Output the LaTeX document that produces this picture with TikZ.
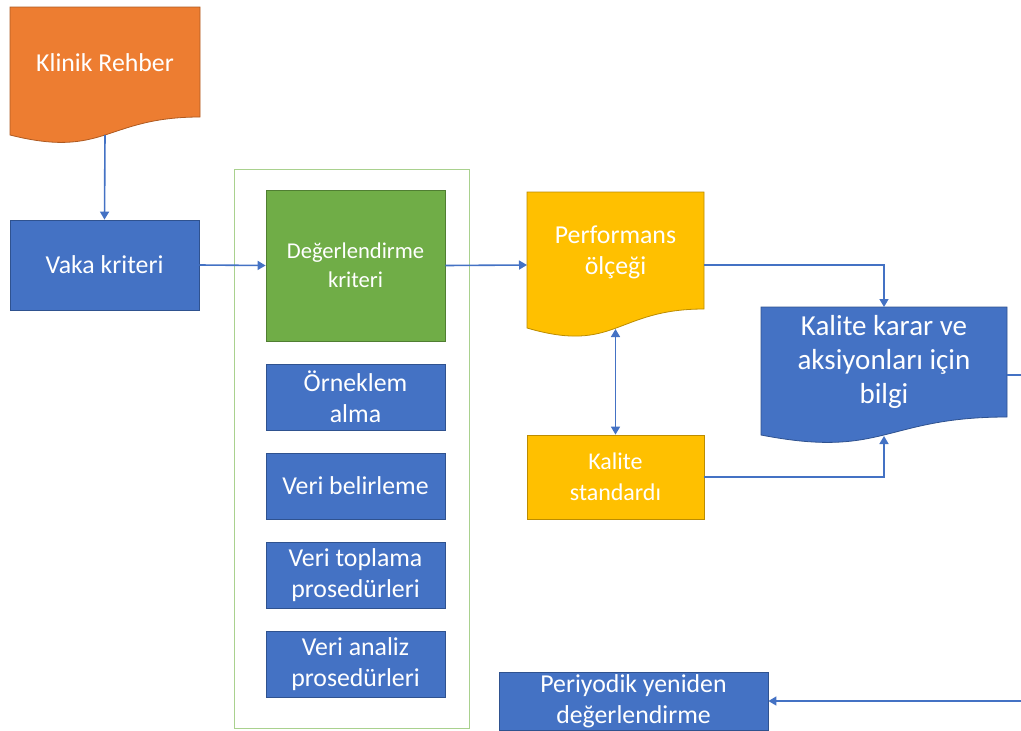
\documentclass[tikz,border=0pt]{standalone}
\usepackage{fontspec}
\setmainfont{Carlito}
\usetikzlibrary{arrows.meta}

\definecolor{blueFill}{HTML}{4472C4}
\definecolor{blueLine}{HTML}{2F528F}
\definecolor{orangeFill}{HTML}{ED7D31}
\definecolor{orangeLine}{HTML}{AE5A21}
\definecolor{goldFill}{HTML}{FFC000}
\definecolor{goldLine}{HTML}{BC8C00}
\definecolor{greenFill}{HTML}{70AD47}
\definecolor{greenLine}{HTML}{507E32}
\definecolor{frameGreen}{HTML}{A9D18E}

\tikzset{
  box/.style={draw=blueLine, fill=blueFill, text=white, line width=0.8pt,
    align=center, inner sep=0pt, font=\fontsize{25.8}{31}\selectfont},
  txt/.style={text=white, align=center, inner sep=0pt,
    font=\fontsize{25.8}{31}\selectfont},
  link/.style={draw=blueFill, line width=1.6pt,
    -{Triangle[width=9pt,length=8pt]}},
}

\begin{document}
\begin{tikzpicture}[x=1pt,y=-1pt]

    % --- Page frame ---
    \useasboundingbox (0,0) rectangle (1021,731);
    \clip (0,0) rectangle (1021,731);

    % --- Green frame round the criteria column ---
    \draw[frameGreen, line width=1pt] (234,169) rectangle (469,728);

    % --- Klinik Rehber (document shape) ---
    \draw[fill=orangeFill, draw=orangeLine, line width=0.8pt]
        (10,7) -- (200,7) -- (200,117)
        .. controls (105,117) and (105,159) .. (10,135) -- cycle;
    \node[txt] (klinik) at (105,63) {Klinik Rehber};
    \coordinate (klinik-b) at (105,135);

    % --- Vaka kriteri ---
    \node[box, minimum width=189pt, minimum height=90pt] (vaka)
        at (104.5,265) {Vaka kriteri};

    % --- Criteria column ---
    \node[box, draw=greenLine, fill=greenFill, minimum width=179pt,
        minimum height=151pt, font=\fontsize{22.6}{29}\selectfont] (degerlendirme)
        at (355.5,265.5) {Değerlendirme\\kriteri};

    \node[box, minimum width=179pt, minimum height=66pt] (orneklem)
        at (355.5,397) {Örneklem\\alma};

    \node[box, minimum width=179pt, minimum height=66pt] (belirleme)
        at (355.5,486) {Veri belirleme};

    \node[box, minimum width=179pt, minimum height=66pt] (toplama)
        at (355.5,575) {Veri toplama\\prosedürleri};

    \node[box, minimum width=179pt, minimum height=66pt] (analiz)
        at (355.5,664) {Veri analiz\\prosedürleri};

    % --- Performans ölçeği (document shape) ---
    \draw[fill=goldFill, draw=goldLine, line width=0.8pt]
        (527,192) -- (704,192) -- (704,309)
        .. controls (615.5,309) and (615.5,354) .. (527,328) -- cycle;
    \node[txt] (performans) at (615.5,252) {Performans\\ölçeği};
    \coordinate (perf-l) at (527,265);
    \coordinate (perf-r) at (704,265);
    \coordinate (perf-b) at (615.5,329);

    % --- Kalite standardı ---
    \node[box, draw=goldLine, fill=goldFill, minimum width=177pt,
        minimum height=84pt, font=\fontsize{24}{31}\selectfont] (standart)
        at (615.5,477) {Kalite\\standardı};

    % --- Kalite karar ve aksiyonları için bilgi (document shape) ---
    \draw[fill=blueFill, draw=blueLine, line width=0.8pt]
        (761,307) -- (1007,307) -- (1007,417)
        .. controls (884,417) and (884,459) .. (761,435) -- cycle;
    \node[txt, font=\fontsize{29}{34}\selectfont] (karar) at (884,362)
        {Kalite karar ve\\aksiyonları için\\bilgi};
    \coordinate (karar-t) at (884,307);
    \coordinate (karar-b) at (884,436);
    \coordinate (karar-r) at (1007,375);
    \coordinate (donus) at (1040,375);

    % --- Periyodik yeniden değerlendirme ---
    \node[box, minimum width=269pt, minimum height=58pt] (periyodik)
        at (633.5,701) {Periyodik yeniden\\değerlendirme};

    % --- Connectors ---
    \draw[link] (klinik-b) -- (vaka.north);
    \draw[link] (vaka.east) -- (degerlendirme.west);
    \draw[link] (degerlendirme.east) -- (perf-l);
    \draw[link] (perf-r) -| (karar-t);
    \draw[link, {Triangle[width=9pt,length=8pt]}-{Triangle[width=9pt,length=8pt]}]
        (perf-b) -- (standart.north);
    \draw[link] (standart.east) -| (karar-b);
    \draw[link] (karar-r) -- (donus) |- (periyodik.east);

\end{tikzpicture}
\end{document}
